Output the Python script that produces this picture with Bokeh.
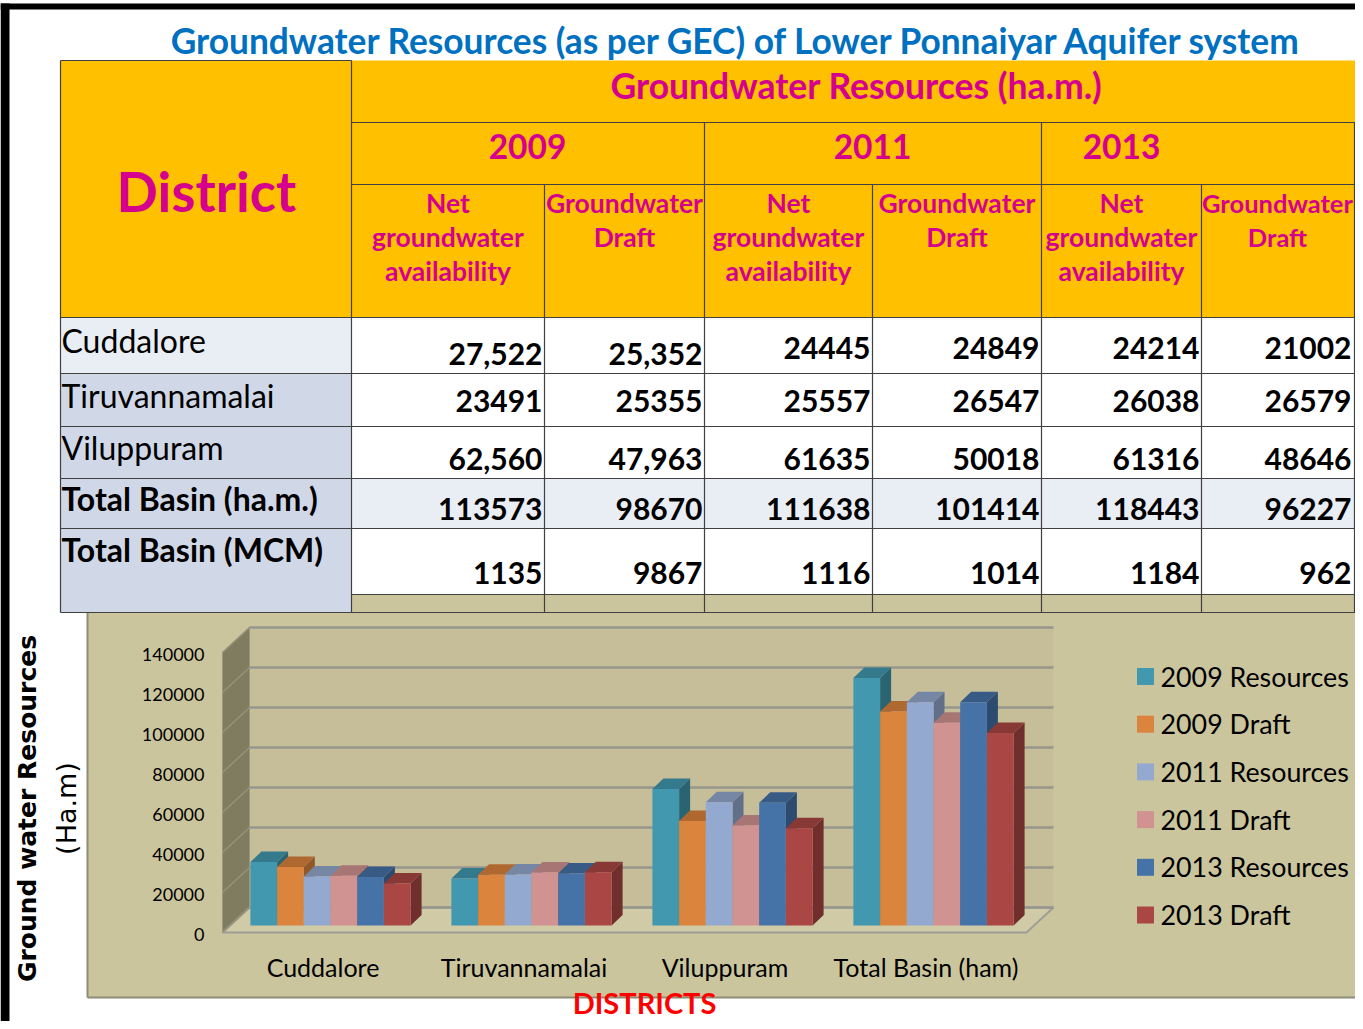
import numpy as np
from bokeh.plotting import figure
from bokeh.models import Range1d, ColumnDataSource
from bokeh.core.properties import value
from bokeh.embed import file_html
from bokeh.resources import INLINE

# ---------------- data ----------------
title_text = "Groundwater Resources (as per GEC) of Lower Ponnaiyar Aquifer system"
table_header = "Groundwater Resources (ha.m.)"
district_header = "District"
years = ["2009", "2011", "2013"]
sub_availability = ["Net", "groundwater", "availability"]
sub_draft = ["Groundwater", "Draft"]
row_names = ["Cuddalore", "Tiruvannamalai", "Viluppuram", "Total Basin (ha.m.)", "Total Basin (MCM)"]
row_cuddalore = ["27,522", "25,352", "24445", "24849", "24214", "21002"]
row_tiruvannamalai = ["23491", "25355", "25557", "26547", "26038", "26579"]
row_viluppuram = ["62,560", "47,963", "61635", "50018", "61316", "48646"]
row_total_ham = ["113573", "98670", "111638", "101414", "118443", "96227"]
row_total_mcm = ["1135", "9867", "1116", "1014", "1184", "962"]

chart_categories = ["Cuddalore", "Tiruvannamalai", "Viluppuram", "Total Basin (ham)"]
series_names = ["2009 Resources", "2009 Draft", "2011 Resources", "2011 Draft", "2013 Resources", "2013 Draft"]
res_2009 = [31700, 23491, 68300, 123800]
draft_2009 = [29200, 25355, 52200, 107000]
res_2011 = [24445, 25557, 61635, 111638]
draft_2011 = [24849, 26547, 50018, 101414]
res_2013 = [24214, 26038, 61316, 111568]
draft_2013 = [21002, 26579, 48646, 96227]
y_ticks = [0, 20000, 40000, 60000, 80000, 100000, 120000, 140000]
y_title = "Ground water Resources"
y_unit = "(Ha.m)"
x_title = "DISTRICTS"

series_values = [res_2009, draft_2009, res_2011, draft_2011, res_2013, draft_2013]
series_colors = ["#4198AF", "#DB843D", "#93A9CF", "#D19392", "#4572A7", "#AA4643"]

# ---------------- styles / layout ----------------
FONT = "Lato"
GOLD = "#FFC000"
MAGENTA = "#D6008F"
BLUE = "#0070C0"
LINE = "#404040"
W, H = 1355, 1021


def shade(hexcol, f):
    h = hexcol.lstrip("#")
    r, g, b = (int(h[i:i + 2], 16) for i in (0, 2, 4))
    return "#%02x%02x%02x" % (int(r * f), int(g * f), int(b * f))


p = figure(width=W, height=H, x_range=Range1d(0, W), y_range=Range1d(H, 0),
           output_backend="svg", toolbar_location=None, min_border=0,
           x_axis_type=None, y_axis_type=None)
p.xgrid.visible = False
p.ygrid.visible = False
p.outline_line_color = None
p.background_fill_color = "white"
p.border_fill_color = "white"


def txt(x, y, t, size, color="black", style="normal", align="left", baseline="middle",
        font=FONT, angle=0, **kw):
    x = np.atleast_1d(x).astype(float)
    y = np.atleast_1d(y).astype(float)
    t = list(np.atleast_1d(t))
    n = max(len(x), len(y), len(t))
    x = np.broadcast_to(x, (n,)).tolist()
    y = np.broadcast_to(y, (n,)).tolist()
    t = (t * n)[:n] if len(t) == 1 else t
    src = ColumnDataSource(dict(x=x, y=y, t=t))
    return p.text(x="x", y="y", text="t", source=src, text_font=value(font),
                  text_font_size=value(f"{size}px"), text_color=color, text_font_style=style,
                  text_align=align, text_baseline=baseline, angle=angle, **kw)


# frame border
p.quad(left=[0, 0], right=[W, 9], top=[3, 3], bottom=[9, H], fill_color="black", line_color=None)

# ---------------- chart panel ----------------
PANEL = "#CBC59E"
p.quad(left=[87], right=[W], top=[594], bottom=[997], fill_color=PANEL, line_color=None)
p.segment(x0=[87, 87], y0=[612, 997], x1=[87, W], y1=[997, 997], line_color="#8E8B76", line_width=2)

# chart coordinate system (front plane)
FRONT_X0, CAT_PX, ZERO_Y, UPP = 222.0, 201.0, 932.0, 500.0
p.extra_x_ranges = {"cat": Range1d((0 - FRONT_X0) / CAT_PX, (W - FRONT_X0) / CAT_PX)}
p.extra_y_ranges = {"val": Range1d((ZERO_Y - H) * UPP, (ZERO_Y - 0) * UPP)}
C = dict(x_range_name="cat", y_range_name="val")
ncat = len(chart_categories)
ymax = y_ticks[-1]
BDX, BDY = 27 / CAT_PX, 25 * UPP          # back wall depth
FDX, FDY = 7.5 / CAT_PX, 7 * UPP          # bars' front face depth
DDX, DDY = 11 / CAT_PX, 10.5 * UPP        # bar thickness
BW = 26.7 / CAT_PX

# back wall, side wall, floor
p.quad(left=[BDX], right=[ncat + BDX], bottom=[BDY], top=[ymax + BDY], fill_color="#C5BE98",
       line_color=None, **C)
p.patch(x=[0, 0, BDX, BDX], y=[0, ymax, ymax + BDY, BDY], fill_color="#807C60",
        line_color="#9A967C", line_width=1, **C)
p.patch(x=[0, ncat, ncat + BDX, BDX], y=[0, 0, BDY, BDY], fill_color="#D0CAA6",
        line_color="#9E9E96", line_width=2, **C)
ticks = np.array(y_ticks, dtype=float)
p.segment(x0=np.full(len(ticks), BDX), y0=ticks + BDY, x1=np.full(len(ticks), ncat + BDX),
          y1=ticks + BDY, line_color="#96968C", line_width=2.5, **C)
p.segment(x0=np.zeros(len(ticks)), y0=ticks, x1=np.full(len(ticks), BDX), y1=ticks + BDY,
          line_color="#96927A", line_width=1.5, **C)

# bars
cat_idx = np.arange(ncat)
for j, (vals, col) in enumerate(zip(series_values, series_colors)):
    v = np.array(vals, dtype=float)
    left = cat_idx + 0.5 - 3 * BW + j * BW + FDX
    right = left + BW
    side_xs = [[r, r, r + DDX, r + DDX] for r in right]
    side_ys = [[FDY, t + FDY, t + FDY + DDY, FDY + DDY] for t in v]
    top_xs = [[l, r, r + DDX, l + DDX] for l, r in zip(left, right)]
    top_ys = [[t + FDY, t + FDY, t + FDY + DDY, t + FDY + DDY] for t in v]
    p.patches(xs=side_xs, ys=side_ys, fill_color=shade(col, 0.66), line_color=None, **C)
    p.patches(xs=top_xs, ys=top_ys, fill_color=shade(col, 0.8), line_color=None, **C)
    p.quad(left=left, right=right, bottom=np.full(ncat, FDY), top=v + FDY,
           fill_color=col, line_color=None, **C)

# axis tick labels and category labels
src_t = ColumnDataSource(dict(x=np.full(len(ticks), (204 - FRONT_X0) / CAT_PX), y=ticks - 2 * UPP,
                              t=[str(t) for t in y_ticks]))
p.text(x="x", y="y", text="t", source=src_t, text_font=value(FONT), text_font_size=value("18px"),
       text_align="right", text_baseline="middle", text_color="black", **C)
src_c = ColumnDataSource(dict(x=cat_idx + 0.5, y=np.full(ncat, -34 * UPP), t=chart_categories))
p.text(x="x", y="y", text="t", source=src_c, text_font=value(FONT), text_font_size=value("25px"),
       text_align="center", text_baseline="middle", text_color="black", **C)

txt(644, 1002, x_title, 29, color="#FF0000", style="bold", align="center")
txt(27, 808, y_title, 25, style="bold", align="center", font="DejaVu Sans", angle=np.pi / 2)
txt(66, 808, y_unit, 27, align="center", font="DejaVu Sans", angle=np.pi / 2)

# legend
ly = 676 + 47.7 * np.arange(len(series_names))
p.scatter(x=np.full(len(series_names), 1145), y=ly, marker="square", size=17,
          fill_color=series_colors, line_color=None)
txt(1160, ly, series_names, 26.8)

# ---------------- table ----------------
col_edges = [351, 544, 704, 872, 1041, 1201, 1353]
row_edges = [317, 373, 426, 478, 528, 612]
p.quad(left=[60], right=[W], top=[60], bottom=[317], fill_color=GOLD, line_color=None)
name_fill = ["#E9EDF4", "#D0D8E8", "#D0D8E8", "#D0D8E8", "#D0D8E8"]
data_fill = ["white", "white", "white", "#E9EDF4", "white"]
data_bottom = row_edges[1:-1] + [594]
p.quad(left=[60] * 5, right=[351] * 5, top=row_edges[:-1], bottom=row_edges[1:],
       fill_color=name_fill, line_color=None)
p.quad(left=[351] * 5, right=[W] * 5, top=row_edges[:-1], bottom=data_bottom,
       fill_color=data_fill, line_color=None)

hx0 = [60, 351, 351, 60, 60, 60, 60, 60, 351, 60]
hy = [60, 122, 184, 317, 373, 426, 478, 528, 594, 612]
hx1 = [351] + [W] * 9
p.segment(x0=hx0, y0=hy, x1=hx1, y1=hy, line_color=LINE, line_width=1.2)
vx = [60, 351, 704, 1041, 544, 872, 1201, 1354]
vy0 = [60, 60, 122, 122, 184, 184, 184, 122]
p.segment(x0=vx, y0=vy0, x1=vx, y1=[612] * len(vx), line_color=LINE, line_width=1.2)

# header texts
txt(737, 40, title_text, 35.3, color=BLUE, style="bold", align="center")
txt(856, 85, table_header, 35.5, color=MAGENTA, style="bold", align="center")
txt(206, 190, district_header, 54.5, color=MAGENTA, style="bold", align="center")
txt([527, 872, 1121], 146, years, 33.5, color=MAGENTA, style="bold", align="center")
centers = [(a + b) / 2 for a, b in zip(col_edges[:-1], col_edges[1:])]
sub_x, sub_y, sub_t, sub_s = [], [], [], []
for k, cx in enumerate(centers):
    lines = sub_availability if k % 2 == 0 else sub_draft
    for i, s in enumerate(lines):
        sub_x.append(cx)
        sub_y.append(202 + 34 * i)
        sub_t.append(s)
txt(sub_x[:-2], sub_y[:-2], sub_t[:-2], 26.5, color=MAGENTA, style="bold", align="center")
txt(sub_x[-2:], sub_y[-2:], sub_t[-2:], 25.5, color=MAGENTA, style="bold", align="center")

# body texts
rows = [row_cuddalore, row_tiruvannamalai, row_viluppuram, row_total_ham, row_total_mcm]
name_mid = [340, 395, 447, 498, 549]
num_mid = [[353, 353, 347, 347, 347, 347], [400] * 6, [458] * 6, [508] * 6, [572] * 6]
name_style = ["normal", "normal", "normal", "bold", "bold"]
for r, nm in enumerate(row_names):
    txt(61, name_mid[r], nm, 32, style=name_style[r])
    txt([e - 2 for e in col_edges[1:]], num_mid[r], rows[r], 30, style="bold", align="right")

open("out.html", "w").write(file_html(p, INLINE))
